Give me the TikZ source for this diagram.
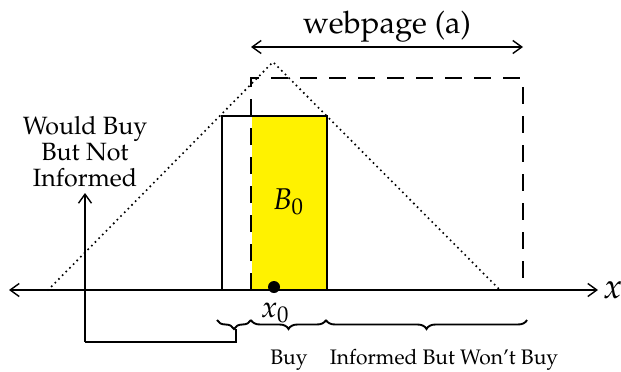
\documentclass[tikz,border=0pt]{standalone}
\usepackage[T1]{fontenc}
\usepackage{mathpazo}
\usetikzlibrary{arrows.meta,decorations.pathreplacing}
\tikzset{
  ln/.style={line width=1.6pt},
  tip/.style={-{Straight Barb[length=9pt,width=13pt,line width=1.4pt]}},
  dtip/.style={{Straight Barb[length=9pt,width=13pt,line width=1.4pt]}-{Straight Barb[length=9pt,width=13pt,line width=1.4pt]}},
  dotln/.style={line width=2.3pt,line cap=round,dash pattern=on 0pt off 5.2pt},
  dashln/.style={line width=1.6pt,dash pattern=on 17pt off 12pt},
  brc/.style={line width=1.9pt,decorate,decoration={brace,mirror,amplitude=9pt}},
  lbl/.style={inner sep=0pt,font=\fontsize{21}{24}\selectfont},
}
\begin{document}
\begin{tikzpicture}[x=1pt,y=-1pt]
\useasboundingbox (0,0) rectangle (621,372);
% yellow box
\fill[yellow] (252,116) rectangle (327,290);
% solid rectangle
\draw[ln] (222,290) -- (222,116) -- (327,116) -- (327,290);
% dashed rectangle
\draw[dashln] (251,290) -- (251,78) -- (523,78) -- (523,290);
% dotted triangle
\draw[dotln] (48,290) -- (273,62) -- (500,290);
% axis
\coordinate (axl) at (9,290);
\coordinate (axr) at (598,290);
\draw[ln,dtip] (axl) -- (axr);
\node[anchor=base west,inner sep=0pt,font=\fontsize{35}{36}\selectfont] (xl) at (603,298) {$x$};
% webpage arrow
\coordinate (wl) at (251,47);
\coordinate (wr) at (523,47);
\draw[ln,dtip] (wl) -- (wr);
\node[anchor=base,inner sep=0pt,font=\fontsize{31}{34}\selectfont] (title) at (387,33) {webpage (a)};
% B0
\node[anchor=base,inner sep=0pt,font=\fontsize{30}{32}\selectfont] (b0) at (288,209) {$B_0$};
% x0 dot
\fill (274,287) circle (6pt);
\node[circle,inner sep=0pt,minimum size=12pt] (dot) at (274,287) {};
\node[anchor=base,inner sep=0pt,font=\fontsize{30}{32}\selectfont] (x0) at (275,317) {$x_0$};
% braces
\draw[brc] (217,320) -- (251,320);
\draw[brc] (251,320) -- (326,320);
\draw[brc] (326,320) -- (527,320);
\node[lbl,anchor=base] (buy) at (289,364) {Buy};
\node[lbl,anchor=base] (inf) at (444,364) {Informed But Won't Buy};
% arrow from small brace
\coordinate (btip) at (236,329);
\coordinate (corner) at (85,342);
\coordinate (atop) at (85,193);
\draw[ln] (btip) |- (corner);
\draw[ln,tip] (corner) -- (atop);
\node[align=center,inner sep=0pt,font=\fontsize{25}{26}\selectfont] (side) at (85,152) {Would Buy\\But Not\\Informed};
\end{tikzpicture}
\end{document}
